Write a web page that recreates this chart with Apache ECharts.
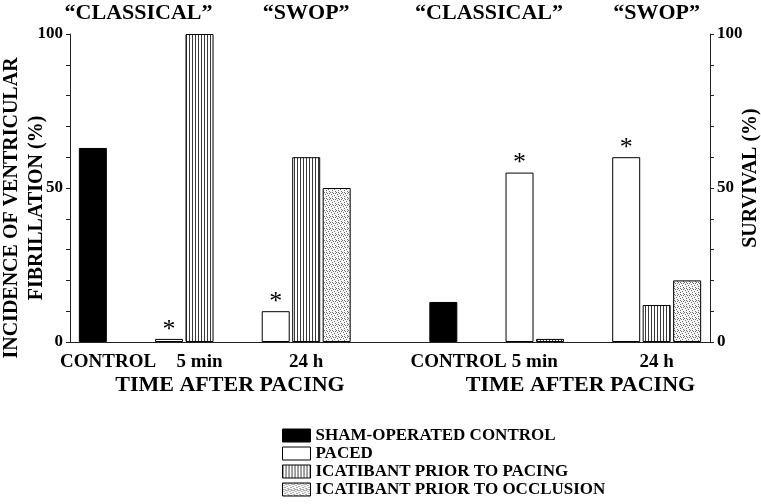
<!DOCTYPE html>
<html>
<head>
<meta charset="utf-8">
<script src="https://cdn.jsdelivr.net/npm/echarts@6/dist/echarts.min.js"></script>
<style>html,body{margin:0;padding:0;background:#fff}#c{width:761px;height:504px}</style>
</head>
<body>
<div id="c"></div>
<script>
// ---------- DATA ----------
const groupLabels = ['CONTROL', '5 min', '24 h'];
const protocolLabels = ['\u201CCLASSICAL\u201D', '\u201CSWOP\u201D'];
const timeAxisTitle = 'TIME AFTER PACING';
const leftAxisTitle = 'INCIDENCE OF VENTRICULAR\nFIBRILLATION (%)';
const rightAxisTitle = 'SURVIVAL (%)';
const seriesNames = ['SHAM-OPERATED CONTROL', 'PACED', 'ICATIBANT PRIOR TO PACING', 'ICATIBANT PRIOR TO OCCLUSION'];
// Incidence of ventricular fibrillation (%) per group
const vfSham = [63, null, null];
const vfPaced = [null, 1, 10];
const vfIcatPacing = [null, 100, 60];
const vfIcatOcclusion = [null, null, 50];
// Survival (%) per group
const survSham = [13, null, null];
const survPaced = [null, 55, 60];
const survIcatPacing = [null, 1, 12];
const survIcatOcclusion = [null, null, 20];
// significance markers on PACED bars
const vfPacedStar = [false, true, true];
const survPacedStar = [false, true, true];
const yTickLabels = [0, 50, 100];

// ---------- LAYOUT ----------
const SLOTS = 42;
const panelBase = [0, 23];
const groupStart = [1, 4, 11];
const groupLabelSlot = [[2, 8, 15], [25, 30, 38]];
const protocolSlot = [[4, 15], [27, 38]];
const timeTitleSlot = [10, 33];
const FONT = "'Liberation Serif', 'Times New Roman', serif";

function stripeTile() {
  const c = document.createElement('canvas'); c.width = 3; c.height = 4;
  const x = c.getContext('2d');
  x.fillStyle = '#fff'; x.fillRect(0, 0, 3, 4);
  x.fillStyle = '#3a3a3a'; x.fillRect(0, 0, 1, 4);
  return c;
}
function stippleTile() {
  const c = document.createElement('canvas'); c.width = 6; c.height = 6;
  const x = c.getContext('2d');
  x.fillStyle = '#f6f6f6'; x.fillRect(0, 0, 6, 6);
  x.fillStyle = '#707070';
  [[0,0],[3,1],[1,2],[4,3],[2,4],[5,5],[5,1],[2,0]].forEach(p => x.fillRect(p[0], p[1], 1, 1));
  return c;
}

const panels = [
  { values: [vfSham, vfPaced, vfIcatPacing, vfIcatOcclusion], star: vfPacedStar },
  { values: [survSham, survPaced, survIcatPacing, survIcatOcclusion], star: survPacedStar }
];

function emptySlots() { return new Array(SLOTS).fill(''); }
const mainCats = emptySlots();
const topCats = emptySlots();
const titleCats = emptySlots();
groupLabelSlot.forEach(ps => ps.forEach((s, g) => { mainCats[s] = groupLabels[g]; }));
protocolSlot.forEach(ps => ps.forEach((s, k) => { topCats[s] = protocolLabels[k]; }));
timeTitleSlot.forEach(s => { titleCats[s] = timeAxisTitle; });

const fills = ['#000', '#fff', { image: stripeTile(), repeat: 'repeat' }, { image: stippleTile(), repeat: 'repeat' }];

const series = seriesNames.map((name, si) => {
  const data = new Array(SLOTS).fill(null);
  panels.forEach((pn, p) => {
    pn.values[si].forEach((v, g) => {
      if (v === null) return;
      const slot = panelBase[p] + groupStart[g] + 2 * si;
      if (si === 1 && pn.star[g]) {
        data[slot] = { value: v, label: { show: true } };
      } else {
        data[slot] = v;
      }
    });
  });
  return {
    name, type: 'bar', data, barWidth: 28, barGap: '-100%',
    xAxisIndex: 0, yAxisIndex: 0,
    itemStyle: { color: fills[si], borderColor: '#000', borderWidth: 1 },
    label: { show: false, formatter: '*', position: 'top', distance: -4,
             fontFamily: FONT, fontSize: 26, color: '#000' },
    emphasis: { disabled: true }
  };
});

const yCommon = {
  type: 'value', min: 0, max: 100, interval: 50,
  splitLine: { show: false },
  axisLine: { show: true, lineStyle: { color: '#222', width: 1 } },
  axisTick: { show: true, length: 4, lineStyle: { color: '#222' } },
  minorTick: { show: true, splitNumber: 5, length: 4, lineStyle: { color: '#222' } },
  axisLabel: { fontFamily: FONT, fontWeight: 'bold', fontSize: 17, color: '#000', margin: 7,
               formatter: v => (yTickLabels.indexOf(v) >= 0 ? String(v) : '') },
  nameLocation: 'middle', nameRotate: 90, nameMoveOverlap: false
};

const option = {
  animation: false,
  backgroundColor: '#fff',
  grid: { left: 70, right: 51, top: 34, bottom: 162, containLabel: false, outerBoundsMode: 'none' },
  legend: {
    data: seriesNames, orient: 'vertical', left: 282, top: 427, height: 77,
    itemWidth: 28, itemHeight: 13, itemGap: 1, icon: 'rect',
    selectedMode: false, padding: 0,
    itemStyle: { borderColor: '#000', borderWidth: 1 },
    textStyle: { fontFamily: FONT, fontWeight: 'bold', fontSize: 17, lineHeight: 13, color: '#000' }
  },
  xAxis: [
    { type: 'category', data: mainCats, position: 'bottom',
      axisLine: { lineStyle: { color: '#222', width: 1 } }, axisTick: { show: false },
      axisLabel: { interval: 0, fontFamily: FONT, fontWeight: 'bold', fontSize: 19, color: '#000', margin: 11 } },
    { type: 'category', data: titleCats, position: 'bottom', offset: 24,
      axisLine: { show: false }, axisTick: { show: false },
      axisLabel: { interval: 0, fontFamily: FONT, fontWeight: 'bold', fontSize: 22, color: '#000', margin: 8 } },
    { type: 'category', data: topCats, position: 'top',
      axisLine: { show: false }, axisTick: { show: false },
      axisLabel: { interval: 0, fontFamily: FONT, fontWeight: 'bold', fontSize: 22, color: '#000', margin: 10 } }
  ],
  yAxis: [
    Object.assign({}, yCommon, { position: 'left', name: leftAxisTitle, nameGap: 21,
      nameTextStyle: { fontFamily: FONT, fontWeight: 'bold', fontSize: 20, lineHeight: 25, color: '#000', padding: [0, 40, 0, 0] } }),
    Object.assign({}, yCommon, { position: 'right', name: rightAxisTitle, nameGap: 31,
      nameTextStyle: { fontFamily: FONT, fontWeight: 'bold', fontSize: 20, color: '#000', padding: [0, 0, 0, 20] } })
  ],
  series
};

const chart = echarts.init(document.getElementById('c'), null, { renderer: 'canvas' });
chart.setOption(option);
</script>
</body>
</html>
